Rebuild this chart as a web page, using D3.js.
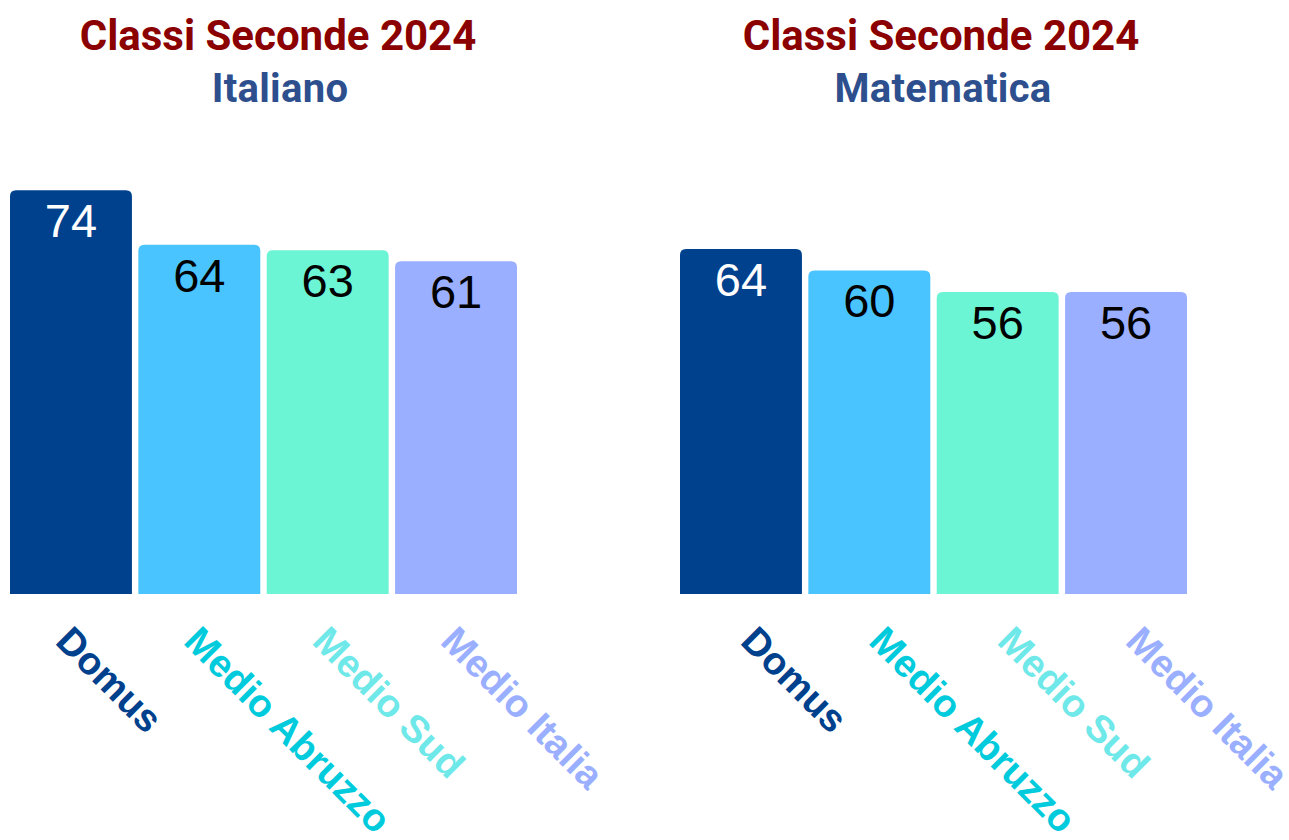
<!DOCTYPE html>
<html>
<head>
<meta charset="utf-8">
<script src="https://cdn.jsdelivr.net/npm/d3@7/dist/d3.min.js"></script>
<style>
  html, body { margin: 0; padding: 0; background: #ffffff; }
  svg { display: block; }
</style>
</head>
<body>
<svg id="chart" width="1289" height="840"></svg>
<script>
// ---- data ----
const categories = ["Domus", "Medio Abruzzo", "Medio Sud", "Medio Italia"];
const titles = ["Classi Seconde 2024", "Classi Seconde 2024"];
const subjects = ["Italiano", "Matematica"];
const italianoValues = [74, 64, 63, 61];
const matematicaValues = [64, 60, 56, 56];
const axisMax = [83.2, 84.2];

// ---- styles ----
const barColors = ["#00418e", "#4ac4ff", "#6cf5d4", "#9aafff"];
const labelColors = ["#00418e", "#00cbdc", "#6ee8e8", "#9aafff"];
const valueColors = ["#ffffff", "#000000", "#000000", "#000000"];

const panels = [
  { values: italianoValues, x0: 10, x1: 517, titleX: 278, labelDx: -17, max: axisMax[0], title: titles[0], subject: subjects[0] },
  { values: matematicaValues, x0: 680, x1: 1187, titleX: 941, labelDx: -2, max: axisMax[1], title: titles[1], subject: subjects[1] }
];

const svg = d3.select("#chart");
const baseY = 594, topY = 140, r = 6;

function topRoundedRect(x, y, w, h, rad) {
  const rr = Math.min(rad, h, w / 2);
  return `M${x},${y + h}V${y + rr}Q${x},${y} ${x + rr},${y}H${x + w - rr}Q${x + w},${y} ${x + w},${y + rr}V${y + h}Z`;
}

panels.forEach(p => {
  const g = svg.append("g");
  const x = d3.scaleBand().domain(categories).range([p.x0, p.x1]).paddingInner(0.05).paddingOuter(0);
  const y = d3.scaleLinear().domain([0, p.max]).range([baseY, topY]);

  g.append("text").attr("x", p.titleX).attr("y", 50)
    .attr("text-anchor", "middle")
    .style("font-family", "Roboto, 'Liberation Sans', sans-serif")
    .style("font-weight", 700).style("font-size", "42px")
    .attr("fill", "#8b0000").text(p.title);
  g.append("text").attr("x", p.titleX + 2).attr("y", 102)
    .attr("text-anchor", "middle")
    .style("font-family", "Roboto, 'Liberation Sans', sans-serif")
    .style("font-weight", 700).style("font-size", "40px")
    .style("letter-spacing", "0.3px")
    .attr("fill", "#2e4f8e").text(p.subject);

  const data = categories.map((c, i) => ({ c, v: p.values[i], i }));

  g.selectAll("path.bar").data(data).enter().append("path")
    .attr("class", "bar")
    .attr("d", d => topRoundedRect(x(d.c), y(d.v), x.bandwidth(), y(0) - y(d.v), r))
    .attr("fill", d => barColors[d.i]);

  g.selectAll("text.val").data(data).enter().append("text")
    .attr("class", "val")
    .attr("x", d => x(d.c) + x.bandwidth() / 2)
    .attr("y", d => y(d.v) + 47)
    .attr("text-anchor", "middle")
    .style("font-family", "'Liberation Sans', Arial, sans-serif")
    .style("font-size", "47px")
    .attr("fill", d => valueColors[d.i])
    .text(d => d.v);

  const axis = d3.axisBottom(x).tickSize(0).tickPadding(0);
  const ax = g.append("g").attr("transform", `translate(0,${baseY})`).call(axis);
  ax.select(".domain").remove();
  ax.selectAll(".tick text")
    .attr("transform", `translate(${p.labelDx},49) rotate(45)`)
    .attr("y", 0).attr("dy", 0)
    .attr("text-anchor", "start")
    .style("font-family", "'Liberation Sans', Arial, sans-serif")
    .style("font-weight", 700).style("font-size", "38.5px")
    .attr("fill", (d, i) => labelColors[i]);
});
</script>
</body>
</html>
